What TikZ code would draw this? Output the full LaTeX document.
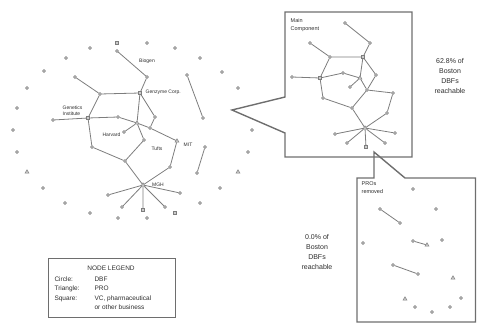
\documentclass[tikz,border=0pt]{standalone}
\usepackage{fontspec}
\setmainfont{Liberation Sans}
\usetikzlibrary{shapes.geometric}
\definecolor{ln}{RGB}{125,125,125}
\definecolor{bx}{RGB}{110,110,110}
\definecolor{tx}{RGB}{45,45,45}
\tikzset{
 nd/.style={circle, draw=ln, fill=ln!40, inner sep=0pt, minimum size=3pt, line width=0.5pt},
 pr/.style={regular polygon, regular polygon sides=3, draw=ln, fill=ln!40, inner sep=0pt, minimum size=4.5pt, line width=0.5pt},
 sq/.style={rectangle, draw=ln, fill=ln!40, inner sep=0pt, minimum size=2.8pt, line width=0.5pt},
 ed/.style={draw=ln, line width=0.8pt},
 lbl/.style={font=\fontsize{5}{6}\selectfont, text=tx, inner sep=0.5pt},
 txt/.style={font=\fontsize{7}{9.8}\selectfont, align=center, text=tx},
 box/.style={draw=bx, line width=1.4pt, line join=miter},
}
\begin{document}
\begin{tikzpicture}[x=1pt,y=-1pt]
\useasboundingbox (0,0) rectangle (477,325);
% ---------- main network ----------
\node[nd] (A) at (117,51) {};
\node[nd] (B) at (147,77) {};
\node[sq] (C) at (140,93) {};
\node[nd] (D) at (100,94) {};
\node[nd] (E) at (75,77) {};
\node[sq] (F) at (88,118) {};
\node[nd] (G) at (53,120) {};
\node[nd] (H) at (118,117) {};
\node[pr] (I) at (137,123) {};
\node[nd] (J) at (155,117) {};
\node[nd] (P) at (124,132) {};
\node[nd] (K) at (92,147) {};
\node[nd] (L) at (125,161) {};
\node[nd] (M) at (144,140) {};
\node[nd] (N) at (150,128) {};
\node[pr] (O) at (177,141) {};
\node[nd] (S) at (170,167) {};
\node[nd] (Q) at (187,75) {};
\node[nd] (R) at (203,118) {};
\node[nd] (T1) at (205,147) {};
\node[nd] (T2) at (197,173) {};
\node[pr] (hub) at (143,185) {};
\node[nd] (h1) at (108,195) {};
\node[nd] (h2) at (122,207) {};
\node[sq] (h3) at (143,210) {};
\node[nd] (h4) at (165,207) {};
\node[nd] (h5) at (180,193) {};
\draw[ed] (A)--(B) (B)--(C) (C)--(D) (D)--(E) (D)--(F) (F)--(G) (F)--(H) (H)--(I)
 (C)--(I) (C)--(J) (J)--(N) (I)--(N) (N)--(O) (I)--(M) (M)--(L) (I)--(P)
 (F)--(K) (K)--(L) (L)--(hub) (O)--(S) (S)--(hub) (Q)--(R) (T1)--(T2)
 (hub)--(h1) (hub)--(h2) (hub)--(h3) (hub)--(h4) (hub)--(h5);
% isolates
\node[nd] (i1) at (118,218) {};
\node[nd] (i2) at (147,218) {};
\node[sq] (i3) at (175,213) {};
\node[nd] (i4) at (90,213) {};
\node[nd] (i5) at (65,203) {};
\node[nd] (i6) at (43,188) {};
\node[pr] (i7) at (27,172) {};
\node[nd] (i8) at (200,203) {};
\node[nd] (i9) at (220,188) {};
\node[nd] (i10) at (90,48) {};
\node[sq] (i11) at (117,43) {};
\node[nd] (i12) at (147,43) {};
\node[nd] (i13) at (175,48) {};
\node[nd] (i14) at (200,58) {};
\node[nd] (i15) at (222,72) {};
\node[nd] (i16) at (66,58) {};
\node[nd] (i17) at (44,71) {};
\node[nd] (i18) at (27,88) {};
\node[nd] (i19) at (17,108) {};
\node[nd] (i20) at (13,130) {};
\node[nd] (i21) at (17,152) {};
\node[nd] (i22) at (238,88) {};
\node[nd] (i23) at (252,130) {};
\node[nd] (i24) at (248,152) {};
\node[pr] (i25) at (238,172) {};
% labels
\node[lbl] (lb1) at (147,61) {Biogen};
\node[lbl, anchor=west] (lb2) at (145,92) {Genzyme Corp.};
\node[lbl, anchor=north west, align=left] (lb3) at (62,105) {Genetics\\Institute};
\node[lbl, anchor=east] (lb4) at (121,135) {Harvard};
\node[lbl] (lb5) at (157,149) {Tufts};
\node[lbl] (lb6) at (188,145) {MIT};
\node[lbl] (lb7) at (158,185) {MGH};
% ---------- upper callout ----------
\draw[box] (285,12) -- (412,12) -- (412,157) -- (285,157) -- (285,133) -- (232,110) -- (285,97) -- cycle;
\node[lbl, anchor=north west, align=left, font=\fontsize{5.5}{7.5}\selectfont] (ul) at (290,18) {Main\\Component};
\node[nd] (u1) at (345,23) {};
\node[nd] (u2) at (370,43) {};
\node[nd] (u3) at (310,43) {};
\node[nd] (u4) at (330,57) {};
\node[sq] (u5) at (363,57) {};
\node[sq] (u6) at (320,78) {};
\node[nd] (u7) at (292,77) {};
\node[nd] (u8) at (376,75) {};
\node[pr] (u9) at (360,78) {};
\node[nd] (ux) at (343,73) {};
\node[nd] (u10) at (350,87) {};
\node[nd] (u11) at (367,90) {};
\node[nd] (u12) at (393,93) {};
\node[nd] (u13) at (323,98) {};
\node[nd] (u14) at (352,108) {};
\node[nd] (u15) at (387,113) {};
\node[pr] (uh) at (365,128) {};
\node[nd] (us1) at (335,134) {};
\node[nd] (us2) at (347,143) {};
\node[sq] (us3) at (366,147) {};
\node[nd] (us4) at (385,143) {};
\node[nd] (us5) at (395,133) {};
\draw[ed] (u1)--(u2) (u2)--(u5) (u3)--(u4) (u4)--(u5) (u4)--(u6) (u6)--(u7) (u6)--(ux) (ux)--(u9)
 (u5)--(u9) (u5)--(u8) (u8)--(u11) (u9)--(u11) (u9)--(u10) (u11)--(u12) (u12)--(u15) (u15)--(uh)
 (u6)--(u13) (u13)--(u14) (u14)--(u11) (u14)--(uh)
 (uh)--(us1) (uh)--(us2) (uh)--(us3) (uh)--(us4) (uh)--(us5);
\node[txt] (t1) at (450,76) {62.8\% of\\Boston\\DBFs\\reachable};
% ---------- lower callout ----------
\draw[box] (357,178) -- (374,178) -- (374,152) -- (405,178) -- (475.5,178) -- (475.5,322) -- (357,322) -- cycle;
\node[lbl, anchor=north west, align=left, font=\fontsize{5.5}{7.5}\selectfont] (ll) at (361,181) {PROs\\removed};
\node[nd] (d1) at (380,209) {};
\node[nd] (d2) at (400,223) {};
\node[nd] (d3) at (413,241) {};
\node[pr] (d4) at (427,245) {};
\node[nd] (d5) at (393,265) {};
\node[nd] (d6) at (418,274) {};
\draw[ed] (d1)--(d2) (d3)--(d4) (d5)--(d6);
\node[nd] (j1) at (413,189) {};
\node[nd] (j2) at (436,209) {};
\node[nd] (j3) at (442,240) {};
\node[pr] (j4) at (453,278) {};
\node[nd] (j5) at (461,298) {};
\node[nd] (j6) at (450,307) {};
\node[nd] (j7) at (432,312) {};
\node[nd] (j8) at (415,307) {};
\node[pr] (j9) at (405,299) {};
\node[nd] (j10) at (363,243) {};
\node[txt] (t2) at (317,252) {0.0\% of\\Boston\\DBFs\\reachable};
% ---------- legend ----------
\draw[draw=bx, line width=0.9pt] (48,258) rectangle (175,317);
\node[txt, font=\fontsize{6.5}{8}\selectfont] (lg) at (111,268) {NODE LEGEND};
\node[txt, anchor=north west, align=left, font=\fontsize{6.5}{9.6}\selectfont] (lgk) at (51,273)
 {Circle:\\Triangle:\\Square:};
\node[txt, anchor=north west, align=left, font=\fontsize{6.5}{9.6}\selectfont] (lgv) at (91,273)
 {DBF\\PRO\\VC, pharmaceutical\\or other business};
\end{tikzpicture}
\end{document}
